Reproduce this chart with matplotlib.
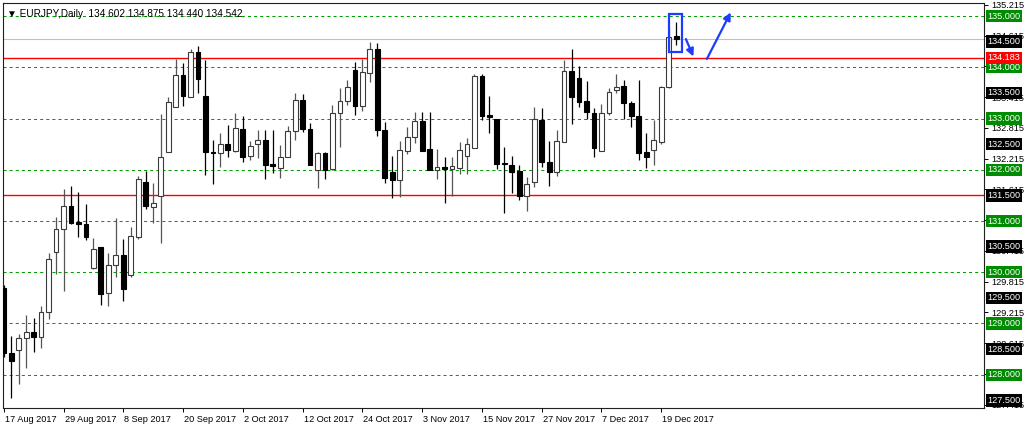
import numpy as np
import matplotlib
matplotlib.use('Agg')
from matplotlib import pyplot as plt
import matplotlib.transforms as mtransforms

plt.rcParams['font.family'] = ['Liberation Sans', 'DejaVu Sans']
plt.rcParams['lines.scale_dashes'] = False

# daily EURJPY candles, 17 Aug 2017 .. 21 Dec 2017
opens = [129.69, 128.42, 128.48, 128.71, 128.84, 128.74, 129.22, 130.39, 130.84, 131.30,
         130.99, 130.95, 130.09, 130.49, 129.60, 130.15, 130.34, 129.95, 130.69, 131.77,
         131.28, 131.49, 132.35, 133.22, 133.84, 133.41, 134.29, 133.44, 132.34, 132.33,
         132.50, 132.37, 132.80, 132.27, 132.50, 132.58, 132.11, 132.03, 132.25, 132.76,
         133.37, 132.80, 132.00, 132.32, 132.01, 133.10, 133.34, 133.95, 133.24, 133.89,
         134.35, 132.78, 131.96, 131.80, 132.37, 132.63, 132.96, 132.40, 132.00, 132.05,
         132.01, 132.04, 132.27, 132.42, 133.83, 133.07, 132.99, 132.14, 132.09, 131.98,
         131.49, 131.77, 132.98, 132.15, 131.95, 132.55, 133.93, 133.80, 133.34, 133.10,
         132.37, 133.11, 133.56, 133.63, 133.31, 133.05, 132.35, 132.39, 132.55, 133.62,
         134.602]
highs = [129.75, 128.76, 128.79, 129.17, 129.11, 129.35, 130.37, 131.08, 131.62, 131.69,
         131.57, 131.33, 130.67, 130.49, 130.37, 131.06, 130.64, 130.88, 131.88, 131.98,
         131.74, 133.09, 133.41, 134.17, 134.09, 134.35, 134.41, 134.14, 132.58, 132.72,
         132.87, 133.10, 133.05, 132.57, 132.78, 132.78, 132.78, 132.48, 132.85, 133.50,
         133.48, 132.92, 132.35, 132.35, 133.26, 133.59, 133.75, 134.10, 134.16, 134.49,
         134.47, 132.94, 132.27, 132.57, 132.83, 133.13, 133.12, 133.12, 132.40, 132.25,
         132.24, 132.55, 132.61, 133.87, 133.87, 133.43, 132.99, 132.45, 132.27, 132.09,
         131.86, 133.23, 133.21, 132.56, 132.78, 134.14, 134.36, 134.03, 133.73, 133.20,
         133.28, 133.59, 133.87, 133.75, 133.34, 133.75, 132.72, 132.98, 133.64, 134.76,
         134.875]
lows = [128.35, 127.54, 127.81, 128.13, 128.45, 128.52, 129.09, 129.96, 129.63, 130.95,
        130.69, 130.63, 130.06, 129.36, 129.34, 129.90, 129.44, 129.91, 130.64, 131.23,
        130.97, 130.58, 132.35, 133.22, 133.24, 133.41, 133.49, 131.90, 131.72, 132.06,
        132.25, 132.35, 132.16, 132.20, 132.22, 131.82, 131.94, 131.84, 132.25, 132.58,
        132.74, 132.09, 131.64, 131.82, 132.00, 132.44, 133.26, 133.07, 133.15, 133.72,
        132.65, 131.74, 131.44, 131.47, 132.31, 132.53, 132.37, 131.99, 131.81, 131.36,
        131.49, 131.92, 131.92, 132.42, 132.97, 132.72, 132.01, 131.15, 131.55, 131.41,
        131.20, 131.67, 132.06, 131.69, 131.88, 132.55, 132.89, 133.23, 133.00, 132.24,
        132.37, 133.07, 133.49, 133.00, 132.83, 132.20, 132.03, 132.09, 132.50, 133.60,
        134.440]
closes = [128.42, 128.27, 128.71, 128.83, 128.74, 129.23, 130.26, 130.84, 131.30, 130.97,
          130.95, 130.69, 130.45, 129.58, 130.14, 130.33, 129.67, 130.71, 131.81, 131.30,
          131.36, 132.24, 133.32, 133.84, 133.44, 134.29, 133.77, 132.35, 132.32, 132.50,
          132.39, 132.81, 132.25, 132.47, 132.58, 132.09, 132.07, 132.25, 132.76, 133.37,
          132.80, 132.09, 132.32, 132.00, 133.10, 133.34, 133.62, 133.24, 133.91, 134.36,
          132.78, 131.83, 131.80, 132.39, 132.63, 132.96, 132.37, 131.99, 132.06, 132.01,
          132.07, 132.39, 132.50, 133.83, 133.05, 133.02, 132.11, 132.11, 131.96, 131.49,
          131.72, 133.00, 132.15, 131.95, 132.57, 133.93, 133.41, 133.33, 133.13, 132.42,
          133.10, 133.52, 133.62, 133.31, 133.05, 132.33, 132.25, 132.58, 133.62, 134.60,
          134.542]

date_labels = ['17 Aug 2017', '29 Aug 2017', '8 Sep 2017', '20 Sep 2017', '2 Oct 2017',
               '12 Oct 2017', '24 Oct 2017', '3 Nov 2017', '15 Nov 2017', '27 Nov 2017',
               '7 Dec 2017', '19 Dec 2017']
date_bars = [0, 8, 16, 24, 32, 40, 48, 56, 64, 72, 80, 88]

axis_ticks = [135.215, 134.615, 134.015, 133.415, 132.815, 132.215, 131.615,
              131.015, 130.415, 129.815, 129.215, 128.615, 128.015, 127.415]
# tick labels that sit fully under a price box get no text
hidden_ticks = [134.015, 131.015, 128.015]
green_levels = [135.0, 134.0, 133.0, 132.0, 131.0, 130.0, 129.0, 128.0]
black_levels = [134.5, 133.5, 132.5, 131.5, 130.5, 129.5, 128.5, 127.5]
red_levels = [134.183, 131.5]
red_label = 134.183
bid = 134.542

# blue markup around the last candle (bar index, price)
box_x = (89.05, 90.8)
box_y = (134.30, 135.04)
small_arrow = ((91.3, 134.55), (92.3, 134.21))
big_arrow = ((94.1, 134.16), (97.3, 135.07))

fontsize = 6.6
blue = '#1e3cff'
green_line = '#00a000'
green_box = '#008c00'

fig = plt.figure(figsize=(10.24, 4.28), dpi=100)
ax = fig.add_axes([3 / 1024, 20 / 428, 981 / 1024, 405 / 428])

o = np.array(opens)
h = np.array(highs)
l = np.array(lows)
c = np.array(closes)
x = np.arange(len(o))
up = c >= o

# horizontal levels
for lv in green_levels:
    ax.axhline(lv, color=green_line, lw=0.75, ls=(0, (2.2, 2.2)), zorder=1)
for lv in red_levels:
    ax.axhline(lv, color='#ff0000', lw=1.0, zorder=1)
ax.axhline(bid, color='#c0c0c0', lw=0.8, zorder=1)

# candles
ax.vlines(x[up], l[up], h[up], color='#555555', lw=0.9, zorder=2)
ax.vlines(x[~up], l[~up], h[~up], color='black', lw=0.9, zorder=2)
body = np.maximum(np.abs(c - o), 0.02)
bottom = np.minimum(o, c)
ax.bar(x[up], body[up], bottom=bottom[up], width=0.64, color='white',
       edgecolor='#3a3a3a', lw=0.8, zorder=3)
ax.bar(x[~up], body[~up], bottom=bottom[~up], width=0.64, color='black',
       edgecolor='black', lw=0.8, zorder=3)

ax.set_xlim(-0.1, 131.2)
ax.set_ylim(127.351, 135.254)

# axes styling
for s in ax.spines.values():
    s.set_color('#202020')
    s.set_linewidth(0.8)
ax.yaxis.tick_right()
ax.set_yticks(axis_ticks)
ax.set_yticklabels(['' if v in hidden_ticks else '%.3f' % v for v in axis_ticks],
                   fontsize=fontsize)
ax.tick_params(axis='y', length=3, width=0.7, pad=2)
ax.set_xticks(date_bars)
ax.set_xticklabels(date_labels, fontsize=fontsize, ha='left')
ax.tick_params(axis='x', length=3, width=0.7, pad=2)
for t in ax.get_xticklabels():
    t.set_transform(t.get_transform() + mtransforms.ScaledTranslation(1 / 100, 0, fig.dpi_scale_trans))

# price labels on the right
trans = mtransforms.blended_transform_factory(ax.transAxes, ax.transData)


def price_box(val, bg):
    ax.text(1.0035, val, '%.3f' % val, transform=trans, fontsize=fontsize, color='white',
            ha='left', va='center', clip_on=False, zorder=10,
            bbox=dict(boxstyle='square,pad=0.18', fc=bg, ec='none'))


for lv in green_levels:
    price_box(lv, green_box)
for lv in black_levels:
    price_box(lv, 'black')
price_box(red_label, '#ff0000')

# blue markup
ax.add_patch(plt.Rectangle((box_x[0], box_y[0]), box_x[1] - box_x[0], box_y[1] - box_y[0],
                           fill=False, ec=blue, lw=1.6, zorder=6))
for a in (small_arrow, big_arrow):
    ax.annotate('', xy=a[1], xytext=a[0],
                arrowprops=dict(arrowstyle='-|>', color=blue, lw=1.6, mutation_scale=11,
                                shrinkA=0, shrinkB=0), zorder=6)

# header
ax.text(0.004, 0.985, '\u25bc EURJPY,Daily  %.3f %.3f %.3f %.3f' % (o[-1], h[-1], l[-1], c[-1]),
        transform=ax.transAxes, fontsize=fontsize + 0.6, ha='left', va='top', zorder=10)

fig.savefig('out.png', dpi=100)
